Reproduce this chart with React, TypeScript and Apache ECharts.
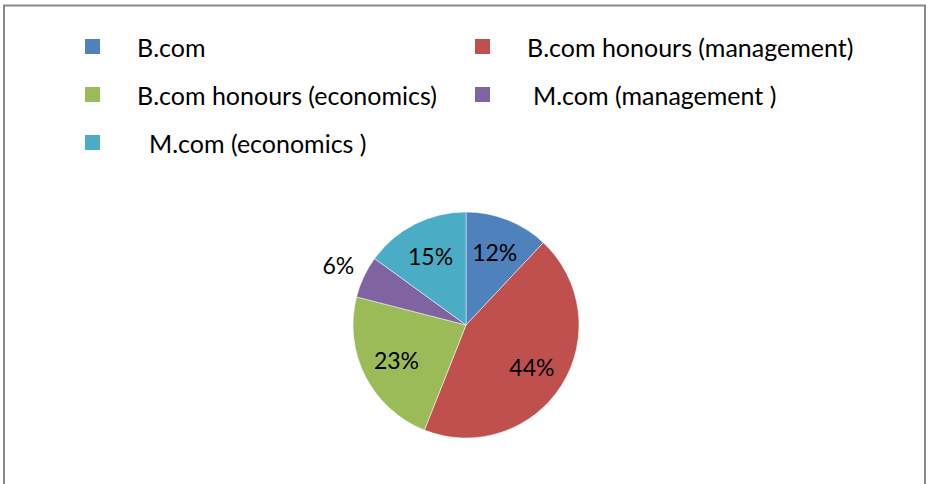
import React, { useEffect, useRef } from "react";
import * as echarts from "echarts";

const categories = [
  "B.com",
  "B.com honours (management)",
  "B.com honours (economics)",
  "M.com (management )",
  "M.com (economics )",
];
const values = [12, 44, 23, 6, 15];
const colors = ["#4F81BD", "#C0504D", "#9BBB59", "#8064A2", "#4BACC6"];
const outsideLabelIndex = 3;

// legend layout: [left, top, extra text offset]
const legendPos: [number, number, number][] = [
  [85, 31.5, 32],
  [475, 31.5, 32],
  [85, 79.5, 32],
  [475, 79.5, 38],
  [85, 127.5, 44],
];

const FONT = "Lato, 'Open Sans', sans-serif";

export default function App() {
  const ref = useRef<HTMLDivElement>(null);
  useEffect(() => {
    if (!ref.current) return;
    const chart = echarts.init(ref.current, undefined, { renderer: "svg" });
    const data = categories.map((name, i) => ({
      name,
      value: values[i],
      itemStyle: { color: colors[i] },
    }));
    const transparent = categories.map((name, i) => ({
      name,
      value: values[i],
      itemStyle: { color: "rgba(0,0,0,0)" },
    }));
    const center = [466, 325];
    const labelStyle = {
      show: true,
      position: "inside",
      formatter: "{c}%",
      fontFamily: FONT,
      fontSize: 23,
      color: "#000",
    };
    const option: any = {
      animation: false,
      backgroundColor: "#ffffff",
      textStyle: { fontFamily: FONT },
      legend: categories.map((name, i) => ({
        left: legendPos[i][0],
        top: legendPos[i][1],
        padding: 0,
        itemWidth: 15,
        itemHeight: 15,
        icon: "rect",
        selectedMode: false,
        data: [{ name, icon: "rect", itemStyle: { color: colors[i], borderWidth: 0 } }],
        textStyle: {
          fontFamily: FONT,
          fontSize: 25,
          color: "#000",
          lineHeight: 30,
          padding: [0, 0, 0, legendPos[i][2]],
        },
      })),
      graphic: [
        {
          type: "rect",
          shape: { x: 4, y: 5.5, width: 921, height: 520 },
          style: { fill: "none", stroke: "#8a8a8a", lineWidth: 2 },
          silent: true,
        },
      ],
      series: [
        {
          type: "pie",
          center,
          radius: [0, 113],
          startAngle: 90,
          clockwise: true,
          data,
          label: { show: false },
          labelLine: { show: false },
          itemStyle: { borderColor: "#ffffff", borderWidth: 0.5 },
          emphasis: { disabled: true },
          silent: true,
        },
        {
          type: "pie",
          center,
          radius: [0, 150],
          startAngle: 90,
          clockwise: true,
          data: transparent.map((d, i) => ({
            ...d,
            label: { show: i !== outsideLabelIndex },
          })),
          label: labelStyle,
          labelLine: { show: false },
          emphasis: { disabled: true },
          silent: true,
          z: 3,
        },
        {
          type: "pie",
          center,
          radius: [0, 276],
          startAngle: 90,
          clockwise: true,
          data: transparent.map((d, i) => ({
            ...d,
            label: { show: i === outsideLabelIndex },
          })),
          label: labelStyle,
          labelLine: { show: false },
          emphasis: { disabled: true },
          silent: true,
          z: 3,
        },
      ],
    };
    chart.setOption(option);
    return () => chart.dispose();
  }, []);
  return (
    <div
      ref={ref}
      style={{ position: "fixed", left: 0, top: 0, width: 930, height: 484 }}
    />
  );
}
